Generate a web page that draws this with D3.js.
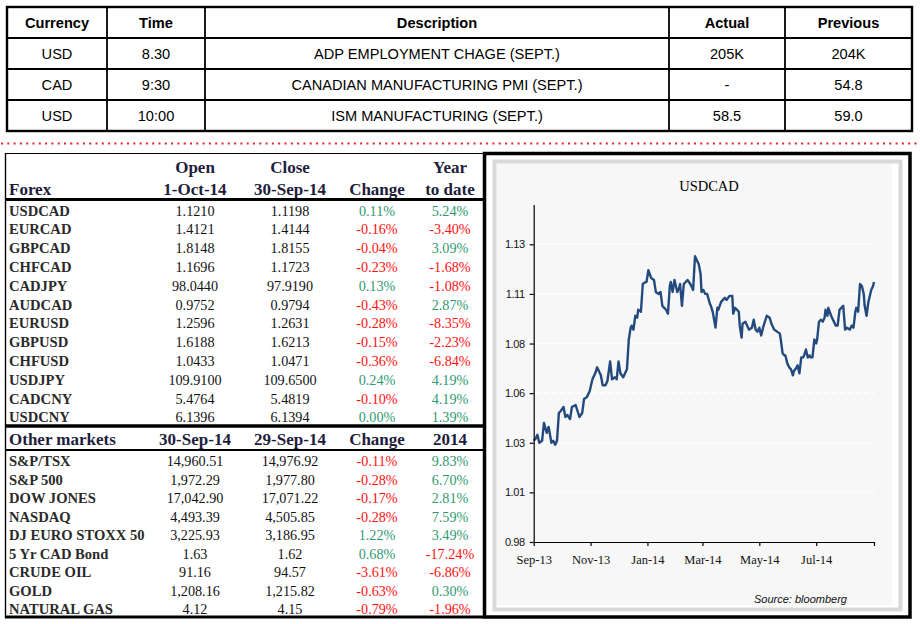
<!DOCTYPE html>
<html><head><meta charset="utf-8">
<script src="https://cdn.jsdelivr.net/npm/d3@7"></script>
<style>body{margin:0;background:#fff;} svg{display:block;}</style>
</head><body><svg id="c" width="920" height="624"></svg>
<script>
// ---------------- DATA ----------------
const calHeaders = ["Currency","Time","Description","Actual","Previous"];
const calCurrency = ["USD","CAD","USD"];
const calTime = ["8.30","9:30","10:00"];
const calDescription = ["ADP EMPLOYMENT CHAGE (SEPT.)","CANADIAN MANUFACTURING PMI (SEPT.)","ISM MANUFACTURING (SEPT.)"];
const calActual = ["205K","-","58.5"];
const calPrevious = ["204K","54.8","59.0"];

const forexHeaderTop = ["", "Open", "Close", "", "Year"];
const forexHeaderBottom = ["Forex", "1-Oct-14", "30-Sep-14", "Change", "to date"];
const forexPairs = ["USDCAD","EURCAD","GBPCAD","CHFCAD","CADJPY","AUDCAD","EURUSD","GBPUSD","CHFUSD","USDJPY","CADCNY","USDCNY"];
const forexOpen = [1.1210,1.4121,1.8148,1.1696,98.0440,0.9752,1.2596,1.6188,1.0433,109.9100,5.4764,6.1396];
const forexClose = [1.1198,1.4144,1.8155,1.1723,97.9190,0.9794,1.2631,1.6213,1.0471,109.6500,5.4819,6.1394];
const forexChange = [0.11,-0.16,-0.04,-0.23,0.13,-0.43,-0.28,-0.15,-0.36,0.24,-0.10,0.00];
const forexYtd = [5.24,-3.40,3.09,-1.68,-1.08,2.87,-8.35,-2.23,-6.84,4.19,4.19,1.39];

const marketHeader = ["Other markets","30-Sep-14","29-Sep-14","Change","2014"];
const marketNames = ["S&P/TSX","S&P 500","DOW JONES","NASDAQ","DJ EURO STOXX 50","5 Yr CAD Bond","CRUDE OIL","GOLD","NATURAL GAS"];
const marketLast = [14960.51,1972.29,17042.90,4493.39,3225.93,1.63,91.16,1208.16,4.12];
const marketPrev = [14976.92,1977.80,17071.22,4505.85,3186.95,1.62,94.57,1215.82,4.15];
const marketChange = [-0.11,-0.28,-0.17,-0.28,1.22,0.68,-3.61,-0.63,-0.79];
const marketYtd = [9.83,6.70,2.81,7.59,3.49,-17.24,-6.86,0.30,-1.96];

const chartTitle = "USDCAD";
const usdcadDates = ["2013-09-01","2013-09-03","2013-09-05","2013-09-07","2013-09-10","2013-09-12","2013-09-15","2013-09-17","2013-09-20","2013-09-22","2013-09-24","2013-09-26","2013-09-28","2013-09-30",
"2013-10-03","2013-10-05","2013-10-07","2013-10-10","2013-10-12","2013-10-16","2013-10-18","2013-10-20","2013-10-23","2013-10-25","2013-10-28","2013-10-31",
"2013-11-03","2013-11-06","2013-11-08","2013-11-10","2013-11-12","2013-11-14","2013-11-17","2013-11-19","2013-11-22","2013-11-24","2013-11-27","2013-11-29",
"2013-12-01","2013-12-03","2013-12-06","2013-12-08","2013-12-10","2013-12-12","2013-12-14","2013-12-15","2013-12-17","2013-12-19","2013-12-21","2013-12-22","2013-12-25","2013-12-27","2013-12-30","2013-12-31",
"2014-01-02","2014-01-05","2014-01-08","2014-01-10","2014-01-13","2014-01-15","2014-01-17","2014-01-19","2014-01-21","2014-01-23","2014-01-25","2014-01-26","2014-01-28","2014-01-30",
"2014-02-02","2014-02-04","2014-02-05","2014-02-07","2014-02-09","2014-02-11","2014-02-13","2014-02-16","2014-02-18","2014-02-19","2014-02-21","2014-02-23","2014-02-25","2014-02-27","2014-02-28",
"2014-03-02","2014-03-04","2014-03-06","2014-03-09","2014-03-10","2014-03-12","2014-03-15","2014-03-17","2014-03-18","2014-03-21","2014-03-23","2014-03-25","2014-03-27","2014-03-30","2014-03-31",
"2014-04-02","2014-04-03","2014-04-05","2014-04-07","2014-04-09","2014-04-10","2014-04-12","2014-04-13","2014-04-16","2014-04-18","2014-04-20","2014-04-23","2014-04-25","2014-04-27","2014-04-29",
"2014-05-01","2014-05-03","2014-05-05","2014-05-07","2014-05-09","2014-05-12","2014-05-14","2014-05-17","2014-05-20","2014-05-23","2014-05-24","2014-05-26","2014-05-28","2014-05-29","2014-05-31",
"2014-06-02","2014-06-04","2014-06-06","2014-06-07","2014-06-10","2014-06-11","2014-06-13","2014-06-15","2014-06-17","2014-06-18","2014-06-20","2014-06-22","2014-06-24","2014-06-25","2014-06-27","2014-06-29",
"2014-07-01","2014-07-02","2014-07-04","2014-07-06","2014-07-08","2014-07-10","2014-07-11","2014-07-13","2014-07-14","2014-07-17","2014-07-19","2014-07-22","2014-07-24","2014-07-26","2014-07-28","2014-07-30",
"2014-08-01","2014-08-03","2014-08-06","2014-08-08","2014-08-10","2014-08-12","2014-08-13","2014-08-15","2014-08-17","2014-08-19","2014-08-21","2014-08-22","2014-08-24","2014-08-26","2014-08-28","2014-08-29","2014-08-31","2014-09-01"];
const usdcadValues = [1.031,1.032,1.034,1.030,1.031,1.040,1.035,1.038,1.030,1.031,1.029,1.031,1.045,1.046,
1.048,1.043,1.044,1.042,1.048,1.049,1.046,1.043,1.045,1.052,1.053,1.056,
1.062,1.065,1.068,1.066,1.064,1.059,1.059,1.061,1.071,1.062,1.063,1.062,
1.071,1.065,1.063,1.065,1.067,1.082,1.088,1.089,1.087,1.094,1.093,1.097,1.096,1.110,1.111,1.111,
1.117,1.113,1.112,1.106,1.105,1.106,1.099,1.098,1.097,1.095,1.109,1.111,1.106,1.112,
1.106,1.108,1.110,1.099,1.110,1.111,1.112,1.110,1.108,1.107,1.124,1.122,1.120,1.115,1.106,
1.107,1.105,1.105,1.100,1.099,1.096,1.088,1.098,1.097,1.101,1.102,1.103,1.102,1.104,1.104,
1.104,1.095,1.098,1.097,1.096,1.089,1.083,1.090,1.091,1.089,1.087,1.088,1.092,1.087,1.086,
1.088,1.084,1.088,1.091,1.094,1.093,1.090,1.087,1.086,1.085,1.082,1.075,1.074,1.074,1.070,
1.068,1.067,1.064,1.066,1.068,1.069,1.065,1.073,1.073,1.074,1.077,1.073,1.074,1.073,1.073,1.082,
1.080,1.082,1.091,1.092,1.091,1.093,1.097,1.094,1.098,1.094,1.092,1.089,1.089,1.097,1.098,1.099,
1.087,1.088,1.087,1.089,1.088,1.096,1.098,1.096,1.110,1.109,1.105,1.099,1.094,1.101,1.105,1.107,1.109,1.111];
const yTickValues = [0.98,1.005,1.03,1.055,1.08,1.105,1.13];
const yTickLabels = ["0.98","1.01","1.03","1.06","1.08","1.11","1.13"];
const xTickDates = ["2013-09-01","2013-11-01","2014-01-01","2014-03-01","2014-05-01","2014-07-01","2014-09-01"];
const xTickLabels = ["Sep-13","Nov-13","Jan-14","Mar-14","May-14","Jul-14",""];
const sourceNote = "Source: bloomberg";

// ---------------- DRAW ----------------
const svg = d3.select("#c");
svg.append("rect").attr("width",920).attr("height",624).attr("fill","#fff");
const parse = d3.timeParse("%Y-%m-%d");
const GREEN = "#2f9a72", RED = "#ff1010";
const loc = d3.formatLocale({decimal:".", thousands:",", grouping:[3], currency:["$",""], minus:"-"});

// ---- top calendar table ----
const calColEdges = [7,107,205,669,785,912];
const calRow = d3.scaleBand().domain(d3.range(4)).range([7,131]);
const calG = svg.append("g").attr("font-family","'Liberation Sans', Arial, sans-serif").attr("font-size",14.6).attr("fill","#000");
const calCols = [calCurrency, calTime, calDescription, calActual, calPrevious];
calHeaders.forEach((h,ci)=>{
  const cx = (calColEdges[ci]+calColEdges[ci+1])/2;
  calG.append("text").attr("x",cx).attr("y",calRow(0)+calRow.bandwidth()/2).attr("text-anchor","middle")
    .attr("dominant-baseline","central").attr("font-weight","bold").text(h);
  calCols[ci].forEach((v,ri)=>{
    calG.append("text").attr("x",cx).attr("y",calRow(ri+1)+calRow.bandwidth()/2).attr("text-anchor","middle")
      .attr("dominant-baseline","central").text(v);
  });
});
d3.range(1,4).forEach(i=>{
  calG.append("line").attr("x1",7).attr("x2",912).attr("y1",calRow(i)).attr("y2",calRow(i)).attr("stroke","#000").attr("stroke-width",1.8);
});
calColEdges.slice(1,-1).forEach(xx=>{
  calG.append("line").attr("x1",xx).attr("x2",xx).attr("y1",7).attr("y2",131).attr("stroke","#000").attr("stroke-width",1.8);
});
calG.append("rect").attr("x",7).attr("y",7).attr("width",905).attr("height",124).attr("fill","none").attr("stroke","#000").attr("stroke-width",2.4);

// red dotted separator
svg.append("line").attr("x1",1).attr("x2",920).attr("y1",143.5).attr("y2",143.5)
  .attr("stroke","#e8202a").attr("stroke-width",2).attr("stroke-dasharray","2,4.3");

// ---- left markets table ----
const tbl = svg.append("g").attr("font-family","'Liberation Serif', 'Times New Roman', serif");
const colX = [9,195,290,377,450];
const HEAD = "#1e1e3c";
[[forexHeaderTop,167],[forexHeaderBottom,189]].forEach(([arr,yy])=>{
  arr.forEach((t,i)=>{
    if(!t) return;
    tbl.append("text").attr("x",colX[i]).attr("y",yy).attr("text-anchor",i===0?"start":"middle")
      .attr("dominant-baseline","central").attr("font-weight","bold").attr("font-size",17).attr("fill",HEAD).text(t);
  });
});
const fxRow = d3.scalePoint().domain(d3.range(forexPairs.length)).range([210.7,417.3]);
const fmt4 = loc.format(".4f"), fmt2 = loc.format(",.2f"), pct = d=>loc.format(".2f")(d)+"%";
function drawRows(names, a, b, ch, ytd, rowScale, fmtA){
  names.forEach((n,i)=>{
    const yy = rowScale(i);
    tbl.append("text").attr("x",colX[0]).attr("y",yy).attr("dominant-baseline","central")
      .attr("font-weight","bold").attr("font-size",14.6).attr("fill","#2a2a2a").text(n);
    [[fmtA(a[i]),"#111"],[fmtA(b[i]),"#111"],[pct(ch[i]), ch[i]>=0?GREEN:RED],[pct(ytd[i]), ytd[i]>=0?GREEN:RED]].forEach(([t,c],k)=>{
      tbl.append("text").attr("x",colX[k+1]).attr("y",yy).attr("text-anchor","middle").attr("dominant-baseline","central")
        .attr("font-size",14.2).attr("fill",c).text(t);
    });
  });
}
drawRows(forexPairs, forexOpen, forexClose, forexChange, forexYtd, fxRow, fmt4);
marketHeader.forEach((t,i)=>{
  tbl.append("text").attr("x",colX[i]).attr("y",439).attr("text-anchor",i===0?"start":"middle")
    .attr("dominant-baseline","central").attr("font-weight","bold").attr("font-size",17).attr("fill",HEAD).text(t);
});
const mkRow = d3.scalePoint().domain(d3.range(marketNames.length)).range([461,609]);
drawRows(marketNames, marketLast, marketPrev, marketChange, marketYtd, mkRow, fmt2);
const L = svg.append("g").attr("stroke","#000");
L.append("line").attr("x1",5).attr("x2",484).attr("y1",153.5).attr("y2",153.5).attr("stroke-width",1.2);
L.append("line").attr("x1",5.5).attr("x2",5.5).attr("y1",153).attr("y2",618).attr("stroke-width",1.4);
L.append("line").attr("x1",5).attr("x2",484).attr("y1",199.5).attr("y2",199.5).attr("stroke-width",3.2);
L.append("line").attr("x1",5).attr("x2",484).attr("y1",426).attr("y2",426).attr("stroke-width",3.6);
L.append("line").attr("x1",5).attr("x2",484).attr("y1",450).attr("y2",450).attr("stroke-width",2);
L.append("line").attr("x1",5).attr("x2",484).attr("y1",617).attr("y2",617).attr("stroke-width",3);

// ---- chart panel ----
const panel = svg.append("g");
panel.append("rect").attr("x",494.5).attr("y",161.5).attr("width",406).attr("height",448).attr("fill","#fff").attr("stroke","#d9d9d9").attr("stroke-width",4);
panel.append("rect").attr("x",497).attr("y",164).attr("width",395).attr("height",441).attr("fill","#f7f7f7");
panel.append("rect").attr("x",484.5).attr("y",153.5).attr("width",425.5).attr("height",463.5).attr("fill","none").attr("stroke","#000").attr("stroke-width",3.5);

const x = d3.scaleTime().domain([parse("2013-09-01"), parse("2014-09-01")]).range([533.7, 874]);
const y = d3.scaleLinear().domain([0.98, 1.15]).range([542, 204.6]);

panel.append("g").selectAll("line").data(yTickValues.slice(1)).join("line")
  .attr("x1",535).attr("x2",874).attr("y1",d=>y(d)).attr("y2",d=>y(d))
  .attr("stroke","#fff").attr("stroke-width",1.6).attr("stroke-dasharray","5,3");

panel.append("text").attr("x",709).attr("y",186).attr("text-anchor","middle").attr("dominant-baseline","central")
  .attr("font-family","'Liberation Serif', serif").attr("font-size",14.5).attr("fill","#000").text(chartTitle);

const series = usdcadDates.map((d,i)=>({date:parse(d), value:usdcadValues[i]}));
panel.append("path").datum(series).attr("fill","none").attr("stroke","#234a7d").attr("stroke-width",2.4)
  .attr("stroke-linejoin","round").attr("d", d3.line().x(d=>x(d.date)).y(d=>y(d.value)));

const yAxis = panel.append("g").attr("transform","translate(533.7,0)")
  .call(d3.axisLeft(y).tickValues(yTickValues).tickFormat((d,i)=>yTickLabels[i]).tickSizeInner(4).tickSizeOuter(0).tickPadding(5));
yAxis.selectAll("text").attr("font-family","'Liberation Sans', Arial, sans-serif").attr("font-size",11).attr("fill","#111").attr("letter-spacing","-0.4");
yAxis.selectAll("path,line").attr("stroke","#000").attr("stroke-width",1.2);

const xAxis = panel.append("g").attr("transform","translate(0,542)")
  .call(d3.axisBottom(x).tickValues(xTickDates.map(parse)).tickFormat((d,i)=>xTickLabels[i]).tickSizeInner(4).tickSizeOuter(0).tickPadding(9));
xAxis.selectAll("text").attr("font-family","'Liberation Serif', serif").attr("font-size",12.5).attr("fill","#111");
xAxis.selectAll("path,line").attr("stroke","#000").attr("stroke-width",1.2);

panel.append("text").attr("x",754).attr("y",603).attr("font-family","'Liberation Sans', Arial, sans-serif")
  .attr("font-style","italic").attr("font-size",11).attr("fill","#111").text(sourceNote);
</script></body></html>
